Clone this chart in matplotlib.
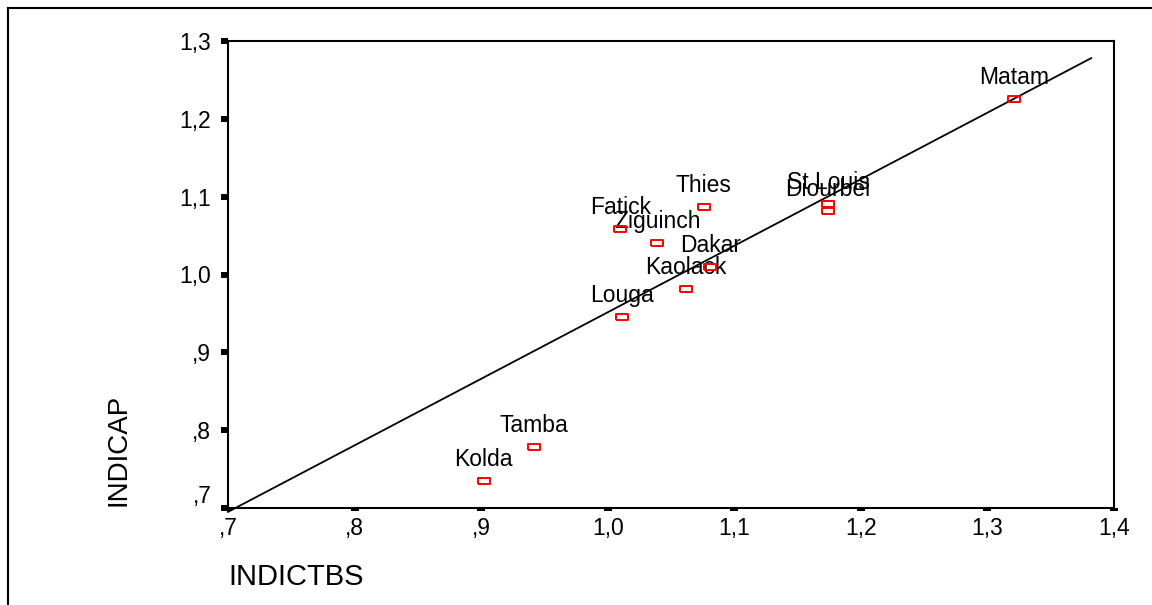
import matplotlib
matplotlib.use('Agg')
import matplotlib.pyplot as plt
from matplotlib.lines import Line2D

plt.rcParams['font.family'] = ['Liberation Sans', 'DejaVu Sans']

# ---- data ----
regions = ['Fatick', 'Ziguinch', 'Dakar', 'Kaolack', 'Louga', 'Thies',
           'St Louis', 'Diourbel', 'Matam', 'Tamba', 'Kolda']
indictbs = [1.010, 1.039, 1.081, 1.062, 1.011, 1.076, 1.174, 1.174, 1.321, 0.942, 0.902]
indicap = [1.059, 1.041, 1.010, 0.981, 0.946, 1.087, 1.091, 1.082, 1.226, 0.778, 0.735]

fit_line_x = [0.700, 1.382]
fit_line_y = [0.695, 1.278]

x_ticks = [0.7, 0.8, 0.9, 1.0, 1.1, 1.2, 1.3, 1.4]
x_tick_labels = [',7', ',8', ',9', '1,0', '1,1', '1,2', '1,3', '1,4']
y_ticks = [0.7, 0.8, 0.9, 1.0, 1.1, 1.2, 1.3]
y_tick_labels = [',7', ',8', ',9', '1,0', '1,1', '1,2', '1,3']

x_label = 'INDICTBS'
y_label = 'INDICAP'

# ---- figure ----
W, H = 1152, 605
fig = plt.figure(figsize=(W / 100, H / 100), dpi=100)
fig.patch.set_facecolor('white')

ax = fig.add_axes([228 / W, 1 - 508 / H, (1114 - 228) / W, (508 - 41) / H])
ax.set_xlim(0.7, 1.4)
ax.set_ylim(0.7, 1.3)

for s in ax.spines.values():
    s.set_linewidth(1.5)
    s.set_color('black')

# regression / reference line
ax.plot(fit_line_x, fit_line_y, color='black', lw=1.3, zorder=2, clip_on=False)

# hollow red rectangle markers
rect = [(-1, -0.55), (1, -0.55), (1, 0.55), (-1, 0.55), (-1, -0.55)]
ax.plot(indictbs, indicap, linestyle='none', marker=rect, markersize=8.0,
        markerfacecolor='none', markeredgecolor='#ff0000', markeredgewidth=1.4,
        zorder=4)

for name, x, y in zip(regions, indictbs, indicap):
    ax.annotate(name, (x, y), xytext=(0, 10.8), textcoords='offset points',
                ha='center', va='baseline', fontsize=16.5, color='black', zorder=3)

ax.set_xticks(x_ticks)
ax.set_xticklabels(x_tick_labels)
ax.set_yticks(y_ticks)
ax.set_yticklabels(y_tick_labels)
ax.tick_params(axis='x', direction='out', length=2.2, width=5.8, pad=4,
               labelsize=16.5, colors='black')
ax.tick_params(axis='y', direction='out', length=5.0, width=4.3, pad=7,
               labelsize=16.5, colors='black')
ax.get_yticklabels()[0].set_va('bottom')

fig.text(228 / W, 1 - 577 / H, x_label, ha='left', va='center', fontsize=21)
fig.text(118 / W, 1 - 450 / H, y_label, ha='center', va='center',
         rotation=90, fontsize=20)

# outer frame (left and top edges)
fig.add_artist(Line2D([8 / W, 1.0], [1 - 8 / H, 1 - 8 / H], color='black', lw=1.5))
fig.add_artist(Line2D([8 / W, 8 / W], [0.0, 1 - 8 / H], color='black', lw=1.5))

fig.savefig('out.png', dpi=100)
